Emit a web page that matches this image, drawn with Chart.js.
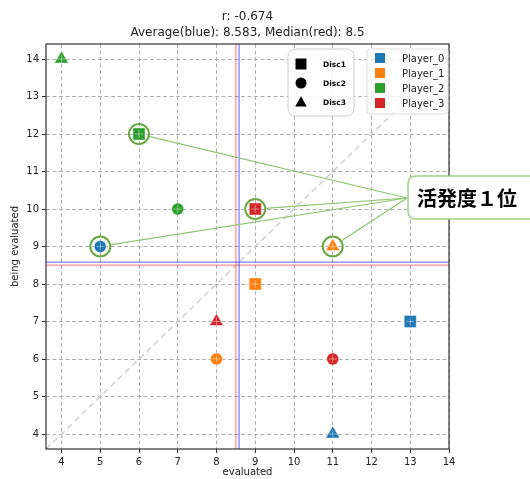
<!DOCTYPE html>
<html lang="en">
<head>
<meta charset="UTF-8">
<title>活発度１位</title>
<script src="https://cdn.jsdelivr.net/npm/chart.js"></script>
<style>
  body { margin: 0; background: #fff; }
</style>
</head>
<body>
<canvas id="chart" width="530" height="479"></canvas>
<script>
// data
const players = ['Player_0', 'Player_1', 'Player_2', 'Player_3'];
const discs = ['Disc1', 'Disc2', 'Disc3'];
const evaluated = [[13, 5, 11], [9, 8, 11], [6, 7, 4], [9, 11, 8]];
const beingEvaluated = [[7, 9, 4], [8, 6, 9], [12, 10, 14], [10, 6, 7]];
const topX = [6, 9, 5, 11];   // points picked out as 活発度１位
const topY = [12, 10, 9, 9];
const xTicks = [4, 5, 6, 7, 8, 9, 10, 11, 12, 13, 14];
const yTicks = [4, 5, 6, 7, 8, 9, 10, 11, 12, 13, 14];
const corr = -0.674;
const average = 8.583;
const median = 8.5;
const annotationText = '活発度１位';

const colors = ['#1f77b4', '#ff7f0e', '#2ca02c', '#d62728'];
const pointStyles = ['rect', 'circle', 'triangle'];
const pointSizes = [8.5, 6, 8];

function roundRect(ctx, x, y, w, h, r) {
    ctx.beginPath();
    ctx.moveTo(x + r, y);
    ctx.lineTo(x + w - r, y);
    ctx.quadraticCurveTo(x + w, y, x + w, y + r);
    ctx.lineTo(x + w, y + h - r);
    ctx.quadraticCurveTo(x + w, y + h, x + w - r, y + h);
    ctx.lineTo(x + r, y + h);
    ctx.quadraticCurveTo(x, y + h, x, y + h - r);
    ctx.lineTo(x, y + r);
    ctx.quadraticCurveTo(x, y, x + r, y);
    ctx.closePath();
}

function marker(ctx, style, x, y, s) {
    ctx.beginPath();
    if (style === 'rect') {
        ctx.rect(x - s, y - s, 2 * s, 2 * s);
    } else if (style === 'circle') {
        ctx.arc(x, y, s, 0, Math.PI * 2);
    } else {
        ctx.moveTo(x, y - s * 1.05);
        ctx.lineTo(x + s * 1.05, y + s * 0.8);
        ctx.lineTo(x - s * 1.05, y + s * 0.8);
        ctx.closePath();
    }
    ctx.fill();
}

// one dataset per player, plus a white "+" drawn on top of each mark
const datasets = [];
players.forEach((p, i) => {
    datasets.push({
        label: p,
        data: evaluated[i].map((v, j) => ({ x: v, y: beingEvaluated[i][j] })),
        pointStyle: pointStyles,
        pointRadius: pointSizes,
        backgroundColor: colors[i],
        borderColor: 'rgba(255,255,255,0.5)',
        borderWidth: 0.8,
        order: 2
    });
});
players.forEach((p, i) => {
    datasets.push({
        label: p + '_cross',
        data: evaluated[i].map((v, j) => ({ x: v, y: beingEvaluated[i][j] })),
        pointStyle: 'cross',
        pointRadius: 4,
        borderColor: 'rgba(255,255,255,0.5)',
        borderWidth: 0.8,
        order: 1
    });
});

const overlay = {
    id: 'overlay',
    beforeDatasetsDraw(chart) {
        const { ctx, chartArea: a, scales: { x, y } } = chart;
        ctx.save();
        ctx.beginPath();
        ctx.rect(a.left, a.top, a.right - a.left, a.bottom - a.top);
        ctx.clip();
        // y = x reference line
        ctx.strokeStyle = '#cfcfcf';
        ctx.lineWidth = 1.5;
        ctx.setLineDash([6, 4]);
        ctx.beginPath();
        ctx.moveTo(x.getPixelForValue(x.min), y.getPixelForValue(x.min));
        ctx.lineTo(x.getPixelForValue(x.max), y.getPixelForValue(x.max));
        ctx.stroke();
        ctx.setLineDash([]);
        // median (red) and average (blue)
        ctx.strokeStyle = 'rgba(255,0,0,0.3)';
        ctx.lineWidth = 2;
        ctx.beginPath();
        ctx.moveTo(x.getPixelForValue(median), a.top);
        ctx.lineTo(x.getPixelForValue(median), a.bottom);
        ctx.moveTo(a.left, y.getPixelForValue(median));
        ctx.lineTo(a.right, y.getPixelForValue(median));
        ctx.stroke();
        ctx.strokeStyle = 'rgba(0,0,255,0.8)';
        ctx.lineWidth = 0.8;
        ctx.beginPath();
        ctx.moveTo(x.getPixelForValue(average), a.top);
        ctx.lineTo(x.getPixelForValue(average), a.bottom);
        ctx.moveTo(a.left, y.getPixelForValue(average));
        ctx.lineTo(a.right, y.getPixelForValue(average));
        ctx.stroke();
        ctx.restore();
    },
    afterDraw(chart) {
        const { ctx, chartArea: a, scales: { x, y } } = chart;
        ctx.save();

        // frame
        ctx.strokeStyle = '#333';
        ctx.lineWidth = 1.2;
        ctx.strokeRect(a.left, a.top, a.right - a.left, a.bottom - a.top);

        // title
        ctx.fillStyle = '#222';
        ctx.font = '12px "DejaVu Sans"';
        ctx.textAlign = 'center';
        ctx.textBaseline = 'middle';
        const cx = (a.left + a.right) / 2;
        ctx.fillText('r: ' + corr.toFixed(3), cx, 17);
        ctx.fillText('Average(blue): ' + average + ', Median(red): ' + median, cx, 33);

        // annotation: rings + lines to the box
        const ax = 407, ay = 198, ringR = 10;
        ctx.strokeStyle = '#8fc46f';
        ctx.lineWidth = 1.2;
        topX.forEach((v, i) => {
            const px = x.getPixelForValue(v), py = y.getPixelForValue(topY[i]);
            const d = Math.hypot(ax - px, ay - py);
            ctx.beginPath();
            ctx.moveTo(px + (ax - px) / d * ringR, py + (ay - py) / d * ringR);
            ctx.lineTo(ax, ay);
            ctx.stroke();
        });
        ctx.strokeStyle = '#6aaa45';
        ctx.lineWidth = 2;
        topX.forEach((v, i) => {
            ctx.beginPath();
            ctx.arc(x.getPixelForValue(v), y.getPixelForValue(topY[i]), ringR, 0, Math.PI * 2);
            ctx.stroke();
        });
        roundRect(ctx, 408, 176, 140, 43, 8);
        ctx.fillStyle = '#fff';
        ctx.fill();
        ctx.strokeStyle = '#9fd08a';
        ctx.lineWidth = 1.5;
        ctx.stroke();
        ctx.fillStyle = '#000';
        ctx.font = 'bold 20px "Noto Sans CJK JP"';
        ctx.textAlign = 'left';
        ctx.fillText(annotationText, 417, 198);

        // disc legend
        roundRect(ctx, 288, 49, 66, 67, 8);
        ctx.fillStyle = 'rgba(255,255,255,0.9)';
        ctx.fill();
        ctx.strokeStyle = '#cccccc';
        ctx.lineWidth = 1;
        ctx.stroke();
        ctx.fillStyle = '#000';
        ctx.font = 'bold 7.5px "DejaVu Sans"';
        discs.forEach((d, i) => {
            const yy = 64 + i * 19;
            marker(ctx, pointStyles[i], 301, yy, 5.5);
            ctx.fillText(d, 323, yy + 1);
        });

        // player legend
        roundRect(ctx, 367, 49, 81, 65, 3);
        ctx.fillStyle = 'rgba(255,255,255,0.85)';
        ctx.fill();
        ctx.strokeStyle = '#dddddd';
        ctx.stroke();
        ctx.font = '10px "DejaVu Sans"';
        players.forEach((p, i) => {
            const yy = 58 + i * 15;
            ctx.fillStyle = colors[i];
            ctx.fillRect(375, yy - 5, 10, 10);
            ctx.fillStyle = '#222';
            ctx.fillText(p, 402, yy + 1);
        });
        ctx.restore();
    }
};

new Chart(document.getElementById('chart'), {
    type: 'scatter',
    data: { datasets },
    options: {
        responsive: false,
        animation: false,
        layout: { padding: { top: 44, right: 81, left: 0, bottom: 0 } },
        plugins: { legend: { display: false }, tooltip: { enabled: false }, title: { display: false } },
        scales: {
            x: {
                min: 3.6,
                max: 14,
                afterBuildTicks: s => { s.ticks = xTicks.map(v => ({ value: v })); },
                afterFit: s => { s.height = 30; },
                grid: { color: '#b0b0b0', tickLength: 4, tickColor: '#333' },
                border: { display: false, dash: [4, 2.5] },
                ticks: { color: '#222', font: { family: 'DejaVu Sans', size: 10 }, padding: 3, maxRotation: 0 },
                title: { display: true, text: 'evaluated', color: '#222', font: { family: 'DejaVu Sans', size: 10 }, padding: { top: 0, bottom: 1 } }
            },
            y: {
                min: 3.6,
                max: 14.4,
                afterBuildTicks: s => { s.ticks = yTicks.map(v => ({ value: v })); },
                afterFit: s => { s.width = 46; },
                grid: { color: '#b0b0b0', tickLength: 4, tickColor: '#333' },
                border: { display: false, dash: [4, 2.5] },
                ticks: { color: '#222', font: { family: 'DejaVu Sans', size: 10 }, padding: 3 },
                title: { display: true, text: 'being evaluated', color: '#222', font: { family: 'DejaVu Sans', size: 10 }, padding: { top: 9, bottom: 0 } }
            }
        }
    },
    plugins: [overlay]
});
</script>
</body>
</html>
